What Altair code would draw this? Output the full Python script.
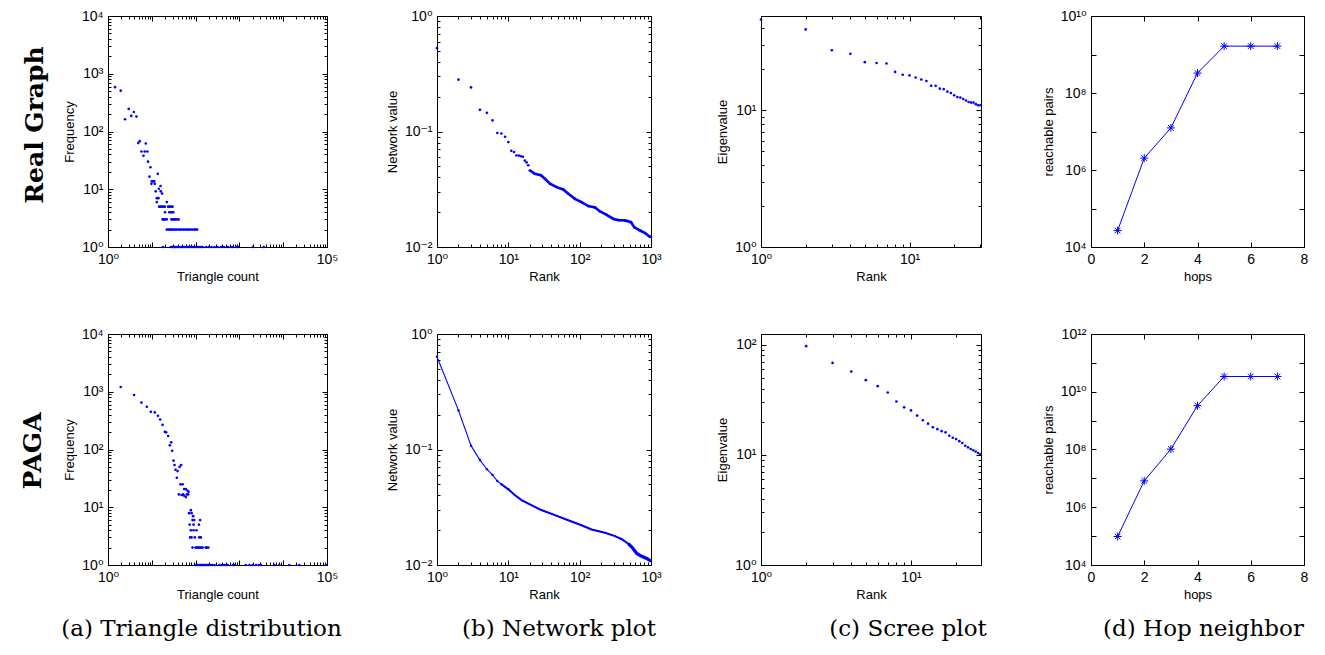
import altair as alt
import pandas as pd

# ---------------- data ----------------
# (a) triangle distribution: (triangle count, frequency)
real_triangle = [
    (1.45, 585), (1.95, 510), (2.45, 163), (2.97, 246), (3.4, 186), (3.9, 218), (4.46, 181),
    (4.9, 63), (5.3, 68), (5.8, 45), (6.45, 38), (6.9, 45), (7.3, 62), (7.95, 45), (8.2, 30),
    (9.3, 24), (8.85, 16.5), (9.8, 12.4), (10.0, 13.7), (10.7, 13.7), (11.3, 13.7), (11.7, 12.4),
    (13.7, 18.5), (12.3, 9.2), (14.5, 10.2), (15.8, 11.4), (16.0, 9.2), (17.2, 8.4), (13.0, 6),
    (22.0, 6), (13.0, 7), (14.2, 7),
    (14.7, 5), (15.8, 5), (17.0, 5), (18.3, 5), (19.8, 5), (23.6, 5), (25.5, 5), (27.5, 5), (29.7, 5),
    (20, 4), (25, 4), (27, 4), (29, 4), (31, 4),
    (17.6, 3), (18.8, 3), (20, 3), (22, 3), (28, 3), (30, 3), (32, 3), (34, 3), (37, 3), (41, 3),
    (22, 2), (24, 2), (26, 2), (28, 2), (30, 2), (33, 2), (36, 2), (40, 2), (44, 2), (48, 2),
    (53, 2), (58, 2), (64, 2), (70, 2), (77, 2), (85, 2), (93, 2), (101, 2), (108, 2),
    (18, 1), (27, 1), (29, 1), (31, 1), (33, 1), (35, 1), (38, 1), (41, 1), (44, 1), (48, 1),
    (52, 1), (56, 1), (61, 1), (66, 1), (72, 1), (78, 1), (85, 1), (92, 1), (100, 1), (110, 1),
    (120, 1), (132, 1), (145, 1), (173, 1), (200, 1), (230, 1), (270, 1), (318, 1), (380, 1),
    (447, 1), (550, 1), (640, 1), (710, 1), (840, 1), (930, 1), (2040, 1), (3600, 1),
]
paga_triangle = [
    (1.95, 1210), (3.94, 880), (5.8, 650), (7.7, 550), (9.5, 449), (11.7, 439), (13.8, 383),
    (15.5, 331), (17.6, 267), (19.8, 202), (21.2, 198), (23.6, 171), (25.8, 118), (27.7, 133),
    (29.2, 95), (31.3, 64), (33, 54), (34.8, 44.6), (38.7, 42.3), (43, 50), (46.9, 54),
    (37.3, 32.4), (45.3, 24.9), (50.5, 24.9), (54.8, 20.6), (60, 20.6), (65.6, 19.3), (69, 18.5),
    (41.5, 16.7), (47.9, 16.3), (52, 16.7), (54.8, 15.8), (60, 15), (63, 16.7), (67.7, 16.7),
    (78, 8.9), (71, 7.9), (81, 7.9), (88, 7), (85, 6), (93, 6), (127, 6), (73, 5), (90, 5),
    (119, 5), (78, 4), (90, 4), (105, 4), (75, 3), (81, 3), (96, 3), (121, 3), (132, 3),
    (85, 2), (100, 2), (106, 2), (112, 2), (120, 2), (127, 2), (135, 2), (145, 2), (170, 2),
    (180, 2), (195, 2),
    (100, 1), (110, 1), (120, 1), (128, 1), (135, 1), (145, 1), (155, 1), (165, 1), (180, 1),
    (195, 1), (215, 1), (240, 1), (270, 1), (350, 1), (400, 1), (450, 1), (500, 1), (540, 1),
    (710, 1), (760, 1), (1400, 1), (1700, 1), (2000, 1), (2400, 1), (2800, 1), (3100, 1),
    (6300, 1), (8100, 1), (13800, 1), (23400, 1), (95000, 1),
]

# (b) network plot: (rank, network value)
real_network = [
    (1, 0.527), (2, 0.281), (3, 0.241), (4, 0.154), (5, 0.145), (6, 0.125), (7, 0.097),
    (8, 0.096), (9, 0.09), (10, 0.081), (11, 0.068), (12, 0.0665), (13, 0.062), (14, 0.062),
    (15, 0.061), (16, 0.0605), (17, 0.056), (18, 0.054), (19, 0.051), (20, 0.046),
    (20.7, 0.0455), (23.5, 0.0431), (28.6, 0.0418), (32.6, 0.039), (38.3, 0.0353),
    (47.5, 0.033), (58.9, 0.0315), (69.2, 0.0289), (85.9, 0.0261), (106, 0.0245),
    (132, 0.0226), (164, 0.022), (193, 0.0203), (239, 0.019), (297, 0.0175), (349, 0.0171),
    (432, 0.017), (525, 0.0164), (584, 0.0148), (703, 0.0139), (826, 0.0132), (940, 0.0124),
    (1000, 0.0122),
]
paga_network = [
    (1, 0.635), (2, 0.218), (3, 0.108), (4, 0.081), (5, 0.0675), (6, 0.0603), (7, 0.0534),
    (8, 0.05), (10, 0.0452), (12.3, 0.0404), (15.3, 0.0365), (21, 0.033), (29, 0.0299),
    (45, 0.027), (69, 0.0244), (106, 0.0221), (147, 0.0203), (226, 0.019), (312, 0.0178),
    (385, 0.0168), (480, 0.0153), (550, 0.0141), (630, 0.0126), (740, 0.0119), (870, 0.0114),
    (1000, 0.0108),
]

# (c) scree plot
real_scree_rank = [1, 2, 3, 4, 5, 6, 7, 8, 9, 10, 11, 12, 13, 14, 15, 16, 17, 18, 19, 20,
                   21, 22, 23, 24, 25, 26, 27, 28, 29, 30]
real_scree_eig = [46.2, 39.1, 27.5, 25.9, 22.5, 22.2, 22.0, 19.1, 18.2, 18.0, 17.4, 16.8, 16.4,
                  15.1, 15.1, 14.4, 14.3, 13.7, 13.4, 12.9, 12.5, 12.4, 12.1, 11.8, 11.5, 11.4,
                  11.4, 11.1, 10.9, 10.9]
paga_scree_rank = [2, 3, 4, 5, 6, 7, 8, 9, 10, 11, 12, 13, 14, 15, 16, 17, 18, 19, 20, 21, 22,
                   23, 24, 25, 26, 27, 28, 29]
paga_scree_eig = [97, 68.3, 57, 47.6, 42, 36.8, 30.5, 27, 25.3, 22.7, 20.6, 19.2, 17.8, 17.1,
                  16.4, 16.0, 14.9, 14.3, 13.9, 13.3, 12.8, 12.1, 11.7, 11.3, 11.0, 10.7, 10.4,
                  10.1]

# (d) hop neighbor
hops = [1, 2, 3, 4, 5, 6, 7]
real_hop_pairs = [2.67e4, 2.04e6, 1.24e7, 3.3e8, 1.65e9, 1.65e9, 1.65e9]
paga_hop_pairs = [9.7e4, 8.2e6, 1.03e8, 3.3e9, 3.37e10, 3.37e10, 3.37e10]

row_labels = ["Real Graph", "PAGA"]
captions = ["(a) Triangle distribution", "(b) Network plot", "(c) Scree plot", "(d) Hop neighbor"]
x_titles = ["Triangle count", "Rank", "Rank", "hops"]
y_titles = ["Frequency", "Network value", "Eigenvalue", "reachable pairs"]

# ---------------- styling ----------------
BLUE = "#0000ff"
SANS = "Liberation Sans, DejaVu Sans, sans-serif"
SERIF = "DejaVu Serif"
AX_FS = 13
LAB_FS = 14
WIDTHS = [219, 214, 220, 213]
H = 231
CAPTION_DX = [-16, 15, 37, 6]
ROW_DX = [21, 33]
ASTERISK = "M-1,0L1,0M0,-1L0,1M-0.7,-0.7L0.7,0.7M-0.7,0.7L0.7,-0.7"

POW = "round(log(datum.value)/LN10)"
LOG_LABEL = ("'10' + (" + POW + " < 0 ? '\u207b' : '') + "
             "['\u2070','\u00b9','\u00b2','\u00b3','\u2074','\u2075','\u2076','\u2077','\u2078','\u2079',"
             "'\u00b9\u2070','\u00b9\u00b9','\u00b9\u00b2'][abs(" + POW + ")]")
MAJOR = "abs(log(datum.value)/LN10 - " + POW + ") < 0.001"


def log_ticks(lo, hi, dmin, dmax, minor=True):
    vals = []
    for e in range(lo, hi + 1):
        for m in (range(1, 10) if minor else [1]):
            v = m * 10.0 ** e
            if dmin * 0.9999 <= v <= dmax * 1.0001:
                vals.append(v)
    return vals


def main_axis(vals, log, title, is_x):
    kw = dict(values=vals, ticks=False, domain=False, grid=False, title=title,
              labelFont=SANS, labelFontSize=LAB_FS, labelColor="black",
              titleFont=SANS, titleFontSize=AX_FS, titleFontWeight="normal",
              titleColor="black", labelOverlap=False)
    if log:
        kw["labelExpr"] = LOG_LABEL
    else:
        kw["format"] = "d"
    if is_x:
        kw.update(labelPadding=5, titlePadding=4, labelFlush=False)
    else:
        kw.update(labelPadding=5, titlePadding=5)
    return alt.Axis(**kw)


def tick_axis(vals, log, orient, offset):
    size = {"condition": {"test": MAJOR, "value": 5}, "value": 3} if log else 5
    return alt.Axis(orient=orient, offset=offset, values=vals, labels=False, domain=False,
                    grid=False, title=None, ticks=True, tickSize=size, tickColor="black",
                    tickWidth=1)


def panel(df, xscale, yscale, xlab, ylab, xticks, yticks, xlog, ylog, xtitle, ytitle,
          w, layers, title=None):
    base = alt.Chart(df)

    def enc(xa, ya):
        return dict(x=alt.X("x:Q", scale=xscale, axis=xa),
                    y=alt.Y("y:Q", scale=yscale, axis=ya))

    main = base.mark_point(opacity=0).encode(
        **enc(main_axis(xlab, xlog, xtitle, True), main_axis(ylab, ylog, ytitle, False)))
    ticks_a = base.mark_point(opacity=0).encode(
        **enc(tick_axis(xticks, xlog, "top", -H), tick_axis(yticks, ylog, "right", -w)))
    ticks_b = base.mark_point(opacity=0).encode(
        **enc(tick_axis(xticks, xlog, "bottom", -H), tick_axis(yticks, ylog, "left", -w)))
    data_layers = [mk(base).encode(**enc(None, None)) for mk in layers]
    ch = alt.layer(main, ticks_a, ticks_b, *data_layers).resolve_axis(
        x="independent", y="independent").properties(width=w, height=H)
    if title is not None:
        ch = ch.properties(title=title)
    return ch


def caption(i):
    return alt.TitleParams(captions[i], orient="bottom", anchor="middle", frame="group",
                           font=SERIF, fontSize=23, fontWeight="normal", color="black",
                           offset=17, dx=CAPTION_DX[i])


dots = lambda b: b.mark_circle(size=7, color=BLUE, opacity=1)


def tri_panel(rows, cap):
    df = pd.DataFrame(rows, columns=["x", "y"])
    xs = alt.Scale(type="log", domain=[1, 1e5], nice=False)
    ys = alt.Scale(type="log", domain=[1, 1e4], nice=False)
    return panel(df, xs, ys, [1, 1e5], [1, 10, 100, 1000, 10000],
                 log_ticks(0, 5, 1, 1e5), log_ticks(0, 4, 1, 1e4), True, True,
                 x_titles[0], y_titles[0], WIDTHS[0], [dots], cap)


def net_panel(rows, is_real, cap):
    df = pd.DataFrame(rows, columns=["x", "y"])
    xs = alt.Scale(type="log", domain=[1, 1000], nice=False)
    ys = alt.Scale(type="log", domain=[0.01, 1], nice=False)
    if is_real:
        layers = [
            lambda b: b.mark_line(color=BLUE, strokeWidth=2.6).transform_filter("datum.x >= 20"),
            dots,
        ]
    else:
        layers = [
            lambda b: b.mark_line(color=BLUE, strokeWidth=1.1),
            lambda b: b.mark_line(color=BLUE, strokeWidth=2).transform_filter("datum.x >= 8"),
            lambda b: b.mark_line(color=BLUE, strokeWidth=3.2).transform_filter("datum.x >= 450"),
            lambda b: b.mark_circle(size=6, color=BLUE, opacity=1).transform_filter("datum.x <= 12"),
        ]
    return panel(df, xs, ys, [1, 10, 100, 1000], [0.01, 0.1, 1],
                 log_ticks(0, 3, 1, 1000), log_ticks(-2, 0, 0.01, 1), True, True,
                 x_titles[1], y_titles[1], WIDTHS[1], layers, cap)


def scree_panel(ranks, eig, xmax, ymax, ylab, cap):
    df = pd.DataFrame({"x": ranks, "y": eig})
    xs = alt.Scale(type="log", domain=[1, xmax], nice=False)
    ys = alt.Scale(type="log", domain=[1, ymax], nice=False)
    return panel(df, xs, ys, [1, 10], ylab,
                 log_ticks(0, 1, 1, xmax), log_ticks(0, 2, 1, ymax), True, True,
                 x_titles[2], y_titles[2], WIDTHS[2], [dots], cap)


def hop_panel(pairs, ymax, ylab, yexp_hi, cap):
    df = pd.DataFrame({"x": hops, "y": pairs})
    xs = alt.Scale(type="linear", domain=[0, 8], nice=False, zero=False)
    ys = alt.Scale(type="log", domain=[1e4, ymax], nice=False)
    layers = [
        lambda b: b.mark_line(color=BLUE, strokeWidth=1),
        lambda b: b.mark_point(shape=ASTERISK, size=64, filled=False, color=BLUE,
                               strokeWidth=1, opacity=1),
    ]
    return panel(df, xs, ys, [0, 2, 4, 6, 8], ylab,
                 [0, 2, 4, 6, 8], log_ticks(4, yexp_hi, 1e4, ymax, minor=False), False, True,
                 x_titles[3], y_titles[3], WIDTHS[3], layers, cap)


def row_title(i):
    return alt.TitleParams(row_labels[i], orient="left", anchor="middle", font=SERIF,
                           fontSize=25, fontWeight="bold", color="black", offset=15,
                           dx=ROW_DX[i])


row1 = alt.hconcat(
    tri_panel(real_triangle, None),
    net_panel(real_network, True, None),
    scree_panel(real_scree_rank, real_scree_eig, 30.3, 49, [1, 10], None),
    hop_panel(real_hop_pairs, 1e10, [1e4, 1e6, 1e8, 1e10], 10, None),
    spacing=110, bounds="flush", title=row_title(0),
)
row2 = alt.hconcat(
    tri_panel(paga_triangle, caption(0)),
    net_panel(paga_network, False, caption(1)),
    scree_panel(paga_scree_rank, paga_scree_eig, 29.3, 125, [1, 10, 100], caption(2)),
    hop_panel(paga_hop_pairs, 1e12, [1e4, 1e6, 1e8, 1e10, 1e12], 12, caption(3)),
    spacing=110, bounds="flush", title=row_title(1),
)

chart = alt.vconcat(row1, row2, spacing=42).properties(
    padding={"left": 12, "top": 0, "right": 0, "bottom": 0},
    background="white",
).configure_view(stroke="black", strokeWidth=1)

chart.save("out.html", embed_options={"renderer": "svg", "actions": False})
